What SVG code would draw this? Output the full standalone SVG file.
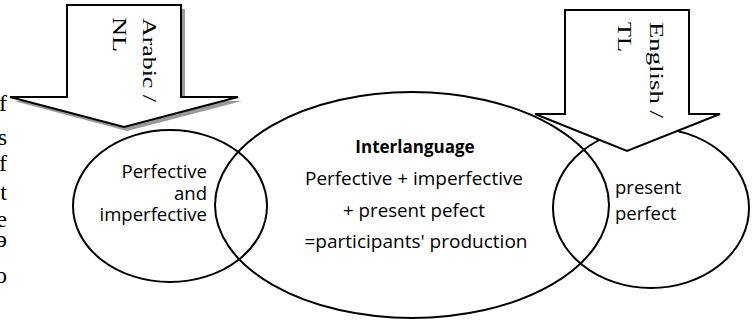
<svg xmlns="http://www.w3.org/2000/svg" width="755" height="324" viewBox="0 0 755 324">
<style>
.ell{fill:none;stroke:#000;stroke-width:2}
.arr{fill:#fff;stroke:#000;stroke-width:2;stroke-linejoin:miter}
.shadow{fill:#999;stroke:none}
.serif{font-family:"Liberation Serif","Times New Roman",serif;fill:#000}
.vt{font-size:19px}
.margin{font-size:24px}
.sans{font-family:"Open Sans","Liberation Sans",Arial,sans-serif;fill:#000;font-size:18.5px}
.bold{font-weight:bold}
</style>
<rect width="755" height="324" fill="#fff"/>
<g id="margin-text" class="serif margin" text-anchor="end">
<text x="7" y="111">f</text>
<text x="7" y="145">s</text>
<text x="7" y="171">f</text>
<text x="7" y="200">t</text>
<text x="7" y="227">e</text>
<text x="7" y="247">ə</text>
<text x="7" y="283">o</text>
</g>
<g id="connectors">
<g id="node-nl-set">
<ellipse class="ell" cx="170" cy="206" rx="97" ry="76"/>
</g>
<g id="node-interlanguage">
<ellipse class="ell" cx="412" cy="205" rx="197" ry="113"/>
</g>
<g id="node-tl-set">
<ellipse class="ell" cx="651" cy="208" rx="98" ry="80"/>
</g>
</g>
<g id="node-nl-text" class="sans" text-anchor="end">
<text x="207" y="178">Perfective</text>
<text x="207" y="200">and</text>
<text x="207" y="221">imperfective</text>
</g>
<g id="node-interlanguage-text" class="sans" text-anchor="middle">
<text class="bold" x="415" y="153" font-size="17">Interlanguage</text>
<text x="414" y="185" textLength="218" lengthAdjust="spacingAndGlyphs">Perfective + imperfective</text>
<text x="414" y="217" textLength="142" lengthAdjust="spacingAndGlyphs">+ present pefect</text>
<text x="416" y="248" textLength="223" lengthAdjust="spacingAndGlyphs">=participants' production</text>
</g>
<g id="node-tl-text" class="sans">
<text x="615" y="194">present</text>
<text x="615" y="220">perfect</text>
</g>
<g id="node-arabic-arrow">
<polygon class="shadow" points="71,9 185,9 185,101 242,101 127,131 14,101 71,101"/>
<polygon class="arr" points="67,5 181,5 181,97 238,97 124,127 10,97 67,97"/>
<text class="serif vt" transform="translate(143,18) rotate(90)" textLength="84" lengthAdjust="spacingAndGlyphs">Arabic /</text>
<text class="serif vt" transform="translate(113,17) rotate(90)" textLength="35" lengthAdjust="spacingAndGlyphs">NL</text>
</g>
<g id="node-english-arrow">
<polygon class="arr" points="565,10 689,10 689,114 720,114 627,151 535,114 565,114"/>
<text class="serif vt" transform="translate(650,22) rotate(90)" textLength="96" lengthAdjust="spacingAndGlyphs">English /</text>
<text class="serif vt" transform="translate(618,22) rotate(90)" textLength="30" lengthAdjust="spacingAndGlyphs">TL</text>
</g>
</svg>
